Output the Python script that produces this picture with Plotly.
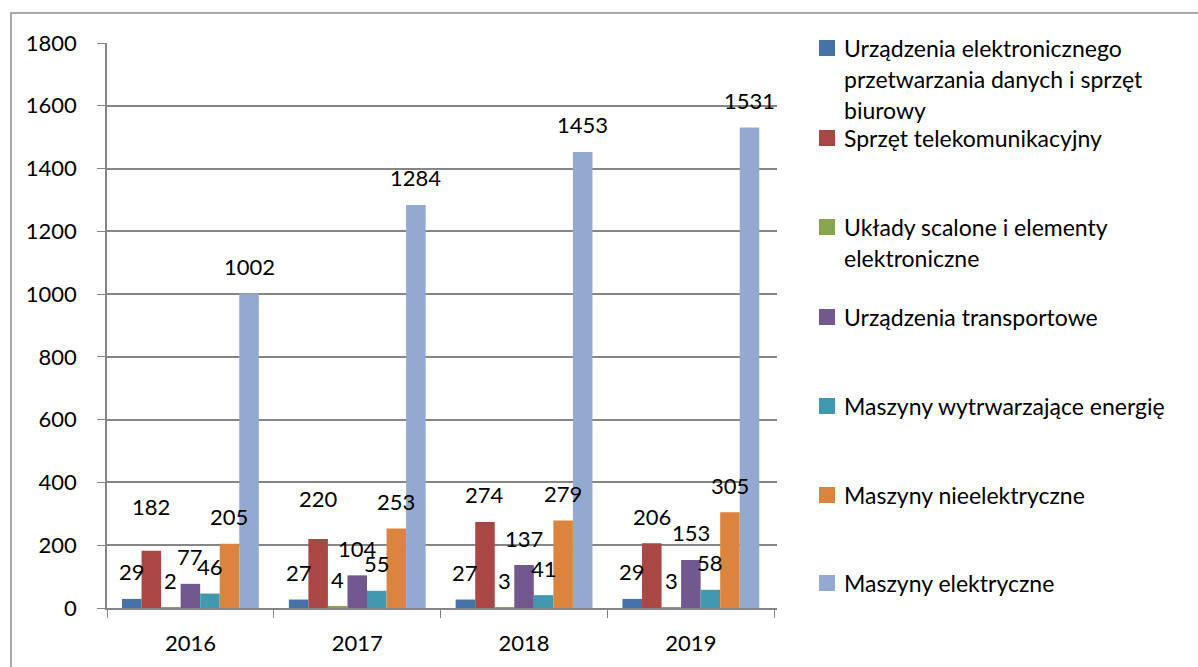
import plotly.graph_objects as go

years = ["2016", "2017", "2018", "2019"]
series_names = [
    "Urządzenia elektronicznego przetwarzania danych i sprzęt biurowy",
    "Sprzęt telekomunikacyjny",
    "Układy scalone i elementy elektroniczne",
    "Urządzenia transportowe",
    "Maszyny wytrwarzające energię",
    "Maszyny nieelektryczne",
    "Maszyny elektryczne",
]
v_edp = [29, 27, 27, 29]
v_telecom = [182, 220, 274, 206]
v_circuits = [2, 4, 3, 3]
v_transport = [77, 104, 137, 153]
v_energy = [46, 55, 41, 58]
v_nonelec = [205, 253, 279, 305]
v_elec = [1002, 1284, 1453, 1531]
values = [v_edp, v_telecom, v_circuits, v_transport, v_energy, v_nonelec, v_elec]

legend_lines = [
    ["Urządzenia elektronicznego", "przetwarzania danych i sprzęt", "biurowy"],
    ["Sprzęt telekomunikacyjny"],
    ["Układy scalone i elementy", "elektroniczne"],
    ["Urządzenia transportowe"],
    ["Maszyny wytrwarzające energię"],
    ["Maszyny nieelektryczne"],
    ["Maszyny elektryczne"],
]
colors = ["#4672A8", "#AA4643", "#89A54E", "#71588F", "#4198AF", "#DB843D", "#93A9CF"]

# extra upward nudges (px) of a few data labels, as in the original
label_nudge = {(1, 0): 17, (1, 1): 13}

FONT = "Lato"
W, H = 1198, 667
ML, MR, MT, MB = 107, 421, 43, 59
PW, PH = W - ML - MR, H - MT - MB
BARGAP = 0.18
n = len(values)
bw = (1 - BARGAP) / n


def px2x(px):
    return (px - ML) / PW


def py2y(py):
    return (H - MB - py) / PH


fig = go.Figure()
for k, (name, vals, col) in enumerate(zip(series_names, values, colors)):
    fig.add_trace(go.Bar(x=years, y=vals, name=name, marker=dict(color=col, line=dict(width=0)),
                         showlegend=False))

annotations = []
for k, vals in enumerate(values):
    for i, v in enumerate(vals):
        annotations.append(dict(
            x=i + (k - (n - 1) / 2) * bw, y=v, xref="x", yref="y",
            text=str(v), showarrow=False, yanchor="middle", xanchor="center",
            yshift=27 + label_nudge.get((k, i), 0),
            font=dict(family=FONT, size=22, color="black"),
        ))

# legend drawn manually to match the spread-out layout
legend_y = [48, 138, 227, 317, 406, 495, 583]
LINE_H = 31
shapes = []
for k, (lines, col, y0) in enumerate(zip(legend_lines, colors, legend_y)):
    shapes.append(dict(type="rect", xref="paper", yref="paper",
                       x0=px2x(819), x1=px2x(835), y0=py2y(y0 + 8), y1=py2y(y0 - 8),
                       fillcolor=col, line=dict(width=0)))
    for j, t in enumerate(lines):
        annotations.append(dict(
            x=px2x(842), y=py2y(y0 + j * LINE_H), xref="paper", yref="paper",
            text=t, showarrow=False, xanchor="left", yanchor="middle",
            font=dict(family=FONT, size=23, color="black"),
        ))

# outer chart border
shapes.append(dict(type="rect", xref="paper", yref="paper",
                   x0=px2x(11), x1=px2x(1215), y0=py2y(690), y1=py2y(13),
                   line=dict(color="#8C8C8C", width=1.5), fillcolor="rgba(0,0,0,0)", layer="below"))

fig.update_layout(
    width=W, height=H,
    margin=dict(l=ML, r=MR, t=MT, b=MB, pad=0),
    paper_bgcolor="white", plot_bgcolor="white",
    barmode="group", bargap=BARGAP, bargroupgap=0,
    font=dict(family=FONT, size=22, color="black"),
    annotations=annotations, shapes=shapes,
    xaxis=dict(type="category", tickson="boundaries", ticks="outside", ticklen=8,
               tickcolor="#868686", showline=True, linecolor="#868686", linewidth=1.5,
               showgrid=False, tickfont=dict(family=FONT, size=22, color="black"),
               ticklabelstandoff=15),
    yaxis=dict(range=[0, 1800], tickvals=list(range(0, 1801, 200)), ticks="outside", ticklen=8,
               tickcolor="#868686", showline=True, linecolor="#868686", linewidth=1.5,
               showgrid=True, gridcolor="#868686", gridwidth=1.5, zeroline=False,
               tickfont=dict(family=FONT, size=22, color="black"), ticklabelstandoff=16),
)

fig.write_html("out.html", config={"displayModeBar": False},
               post_script="document.body.style.margin='0';document.body.style.overflow='hidden';")
